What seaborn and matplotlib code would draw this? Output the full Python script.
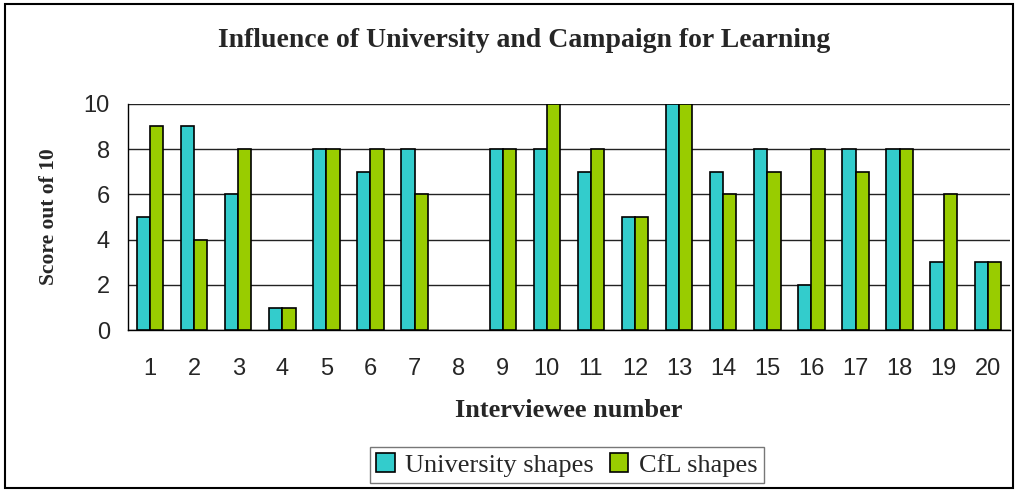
import matplotlib
matplotlib.use("Agg")

import numpy as np
import pandas as pd
import matplotlib.pyplot as plt
import seaborn as sns
from matplotlib.patches import Rectangle

# ===============================
# Data
# ===============================
interviewees = [str(i) for i in range(1, 21)]
university = [5, 9, 6, 1, 8, 7, 8, np.nan, 8, 8, 7, 5, 10, 7, 8, 2, 8, 8, 3, 3]
cfl = [9, 4, 8, 1, 8, 8, 6, np.nan, 8, 10, 8, 5, 10, 6, 7, 8, 7, 8, 6, 3]
series_names = ["University shapes", "CfL shapes"]

df = pd.DataFrame({
    "Interviewee": interviewees * 2,
    "Score": university + cfl,
    "Series": [series_names[0]] * 20 + [series_names[1]] * 20,
})

# ===============================
# Plot
# ===============================
sns.set_style("white")
plt.rcParams["font.family"] = ["Liberation Serif", "DejaVu Serif"]

fig = plt.figure(figsize=(10.18, 4.92), dpi=100)
ax = fig.add_axes([0.1257, 0.329, 0.8663, 0.46])

sns.barplot(
    data=df, x="Interviewee", y="Score", hue="Series",
    order=interviewees, hue_order=series_names,
    palette=["#33CCCC", "#99CC00"], width=0.6, gap=0,
    edgecolor="black", linewidth=1.2, saturation=1,
    legend=True, ax=ax, zorder=3,
)

ax.set_ylim(0, 10)
ax.set_xlim(-0.5, 19.5)
ax.set_yticks([0, 2, 4, 6, 8, 10])
ax.yaxis.grid(True, color="#222222", linewidth=1, zorder=0)
ax.set_axisbelow(True)
for side in ["top", "right"]:
    ax.spines[side].set_visible(False)
for side in ["left", "bottom"]:
    ax.spines[side].set_color("black")
    ax.spines[side].set_linewidth(1)

ax.set_xticks(np.arange(-0.5, 20, 1), minor=True)
ax.tick_params(axis="x", which="major", length=0, pad=20)
ax.tick_params(axis="x", which="minor", length=6, color="black", width=1)
ax.tick_params(axis="y", length=5, color="black", width=1, pad=8)
for lbl in ax.get_xticklabels() + ax.get_yticklabels():
    lbl.set_fontfamily(["Liberation Sans", "DejaVu Sans"])
    lbl.set_fontsize(17)

ax.set_xlabel("Interviewee number", fontsize=19, fontweight="bold", labelpad=14)
ax.set_ylabel("Score out of 10", fontsize=15.5, fontweight="bold", labelpad=18)

fig.text(0.515, 0.918, "Influence of University and Campaign for Learning",
         ha="center", va="center", fontsize=20, fontweight="bold")

ax.legend_.remove()
handles, labels = ax.get_legend_handles_labels()
fig.legend(
    handles, labels, loc="center", bbox_to_anchor=(0.557, 0.055),
    ncol=2, frameon=True, fancybox=False, edgecolor="#555555",
    fontsize=19, handlelength=0.7, handleheight=0.7,
    handletextpad=0.4, columnspacing=0.6, borderpad=0.25,
)

# outer frame
fig.patches.append(Rectangle((0.005, 0.008), 0.99, 0.984, transform=fig.transFigure,
                             fill=False, edgecolor="black", linewidth=1.5))

plt.savefig("out.png", dpi=100)
plt.close()
